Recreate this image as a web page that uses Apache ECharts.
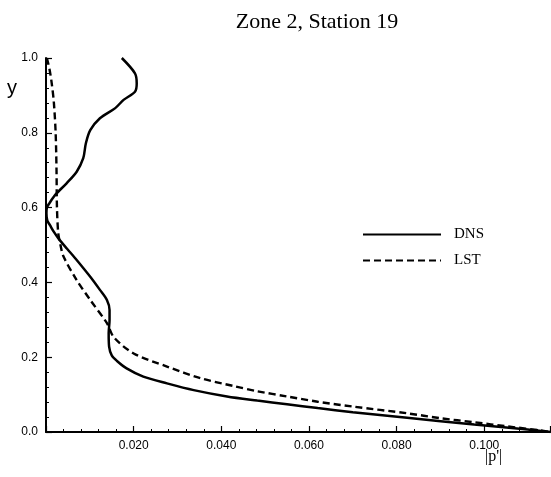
<!DOCTYPE html>
<html>
<head>
<meta charset="utf-8">
<script src="https://cdn.jsdelivr.net/npm/echarts@6/dist/echarts.min.js"></script>
<style>html,body{margin:0;padding:0;background:#fff}#c{width:551px;height:477px}</style>
</head>
<body>
<div id="c"></div>
<script>
const titleText = "Zone 2, Station 19";
const seriesNames = ["DNS", "LST"];
const xTickValues = [0.02, 0.04, 0.06, 0.08, 0.10];
const yTickValues = [0.0, 0.2, 0.4, 0.6, 0.8, 1.0];

const dnsY = [1.0, 0.959, 0.932, 0.910, 0.888, 0.866, 0.839, 0.807, 0.772, 0.732, 0.696, 0.665, 0.634, 0.612, 0.600, 0.585, 0.565, 0.553, 0.535, 0.515, 0.490, 0.460, 0.415, 0.380, 0.353, 0.326, 0.299, 0.264, 0.228, 0.205, 0.190, 0.170, 0.148, 0.130, 0.112, 0.095, 0.084, 0.074, 0.064, 0.053, 0.038, 0.020, 0.007, 0.0];
const dnsX = [0.0173, 0.0203, 0.0207, 0.0203, 0.0177, 0.0158, 0.0123, 0.0101, 0.0091, 0.0085, 0.0070, 0.0047, 0.0021, 0.0008, 0.0002, 0.0001, 0.0003, 0.0009, 0.0018, 0.0030, 0.0048, 0.0070, 0.0101, 0.0123, 0.0139, 0.0145, 0.0145, 0.0143, 0.0144, 0.0150, 0.0162, 0.0184, 0.0222, 0.0276, 0.0337, 0.0413, 0.0482, 0.0550, 0.0620, 0.0700, 0.0824, 0.0977, 0.1099, 0.1152];

const lstY = [1.0, 0.97, 0.933, 0.88, 0.80, 0.70, 0.60, 0.531, 0.50, 0.469, 0.406, 0.353, 0.291, 0.253, 0.210, 0.175, 0.144, 0.123, 0.109, 0.095, 0.081, 0.068, 0.050, 0.037, 0.026, 0.015, 0.004, 0.0];
const lstX = [0.0002, 0.0008, 0.0013, 0.0018, 0.0022, 0.0024, 0.0025, 0.0028, 0.0033, 0.0040, 0.0070, 0.0101, 0.0139, 0.0155, 0.0200, 0.0276, 0.0352, 0.0428, 0.0482, 0.0550, 0.0620, 0.0700, 0.0824, 0.0900, 0.0977, 0.1053, 0.1129, 0.1152];

const dnsData = dnsX.map((x, i) => [x, dnsY[i]]);
const lstData = lstX.map((x, i) => [x, lstY[i]]);

const chart = echarts.init(document.getElementById('c'), null, {renderer: 'canvas'});
chart.setOption({
  animation: false,
  backgroundColor: '#fff',
  title: {
    text: titleText, left: 312, top: 6, textAlign: 'center',
    textStyle: {fontFamily: 'Liberation Serif', fontSize: 22, fontWeight: 'normal', color: '#000'}
  },
  legend: {
    orient: 'vertical', left: 362, top: 227, padding: 0, itemWidth: 78, itemHeight: 14, itemGap: 11,
    data: seriesNames,
    itemStyle: {opacity: 0},
    textStyle: {fontFamily: 'Liberation Serif', fontSize: 15, color: '#000', padding: [0, 0, 0, 8]}
  },
  grid: {left: 46, right: 1, top: 58, bottom: 45, containLabel: false},
  xAxis: {
    type: 'value', min: 0, max: 0.115, interval: 0.02,
    axisLine: {onZero: false, lineStyle: {color: '#000', width: 2}},
    axisTick: {inside: true, length: 6, lineStyle: {color: '#000', width: 1.2}},
    minorTick: {show: true, splitNumber: 5, length: 3, lineStyle: {color: '#000', width: 1}},
    splitLine: {show: false},
    axisLabel: {
      margin: 8, color: '#000', fontFamily: 'Liberation Sans', fontSize: 12,
      showMaxLabel: false,
      formatter: v => xTickValues.some(t => Math.abs(t - v) < 1e-9) ? v.toFixed(3) : ''
    }
  },
  yAxis: {
    type: 'value', min: 0, max: 1, interval: 0.2,
    axisLine: {onZero: false, lineStyle: {color: '#000', width: 2}},
    axisTick: {inside: true, length: 6, lineStyle: {color: '#000', width: 1.2}},
    minorTick: {show: true, splitNumber: 5, length: 3, lineStyle: {color: '#000', width: 1}},
    splitLine: {show: false},
    axisLabel: {
      margin: 8, color: '#000', fontFamily: 'Liberation Sans', fontSize: 12,
      formatter: v => yTickValues.some(t => Math.abs(t - v) < 1e-9) ? v.toFixed(1) : ''
    }
  },
  graphic: [
    {type: 'text', left: 7, top: 78, style: {text: 'y', font: '20px "Liberation Sans"', fill: '#000'}},
    {type: 'text', left: 485, top: 449, style: {text: "|p'|", font: '16px "Liberation Serif"', fill: '#000'}}
  ],
  series: [
    {name: seriesNames[0], type: 'line', data: dnsData, smooth: 0.3, showSymbol: false, symbol: 'none',
     lineStyle: {color: '#000', width: 2.5, type: 'solid'}, itemStyle: {color: '#000'}},
    {name: seriesNames[1], type: 'line', data: lstData, smooth: 0.3, showSymbol: false, symbol: 'none',
     lineStyle: {color: '#000', width: 2.4, type: [7, 4]}, itemStyle: {color: '#000'}}
  ]
});
</script>
</body>
</html>
